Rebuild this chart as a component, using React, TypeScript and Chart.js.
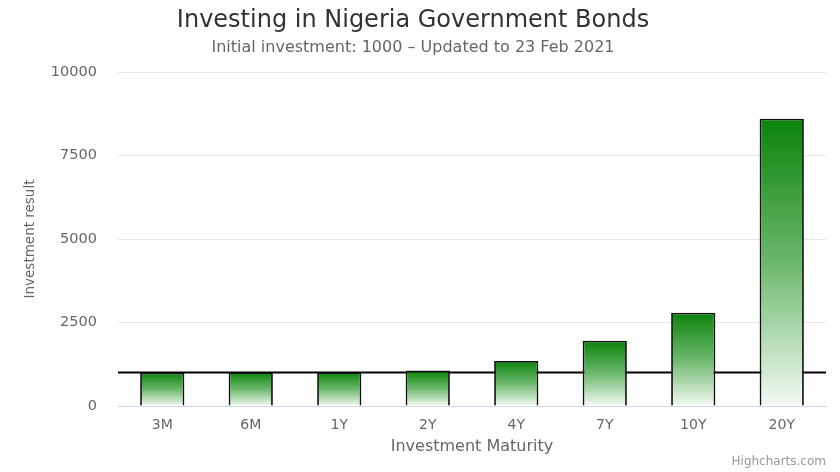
import { useEffect, useRef } from 'react'
import { Chart, registerables } from 'chart.js'

Chart.register(...registerables);

const maturities = ['3M', '6M', '1Y', '2Y', '4Y', '7Y', '10Y', '20Y'];
const results = [995, 1010, 1010, 1060, 1350, 1955, 2790, 8600];
const yTicks = [0, 2500, 5000, 7500, 10000];
const initialInvestment = 1000;

const FONT = '"DejaVu Sans", sans-serif';

// plot line at the initial investment, drawn behind the bars
const baselinePlugin = {
  id: 'baseline',
  beforeDatasetsDraw(chart: Chart) {
    const { ctx, chartArea, scales } = chart;
    const y = scales.y.getPixelForValue(initialInvestment);
    ctx.save();
    ctx.strokeStyle = '#000000';
    ctx.lineWidth = 2;
    ctx.beginPath();
    ctx.moveTo(chartArea.left, y);
    ctx.lineTo(chartArea.right, y);
    ctx.stroke();
    ctx.restore();
  },
  afterDraw(chart: Chart) {
    const { ctx, width, height } = chart;
    ctx.save();
    ctx.font = `12px ${FONT}`;
    ctx.fillStyle = '#999999';
    ctx.textAlign = 'right';
    ctx.textBaseline = 'middle';
    ctx.fillText('Highcharts.com', width - 14, height - 10);
    ctx.restore();
  },
};

export default function App() {
  const canvasRef = useRef<HTMLCanvasElement>(null);

  useEffect(() => {
    document.body.style.margin = '0';
    if (!canvasRef.current) return;
    const chart = new Chart(canvasRef.current, {
      type: 'bar',
      data: {
        labels: maturities,
        datasets: [{
          data: results,
          backgroundColor: (ctx: any) => {
            const c = ctx.chart;
            const ys = c.scales?.y;
            if (!c.chartArea || !ys || ctx.raw == null) return '#2e9a2e';
            const top = ys.getPixelForValue(ctx.raw);
            const bottom = ys.getPixelForValue(0);
            if (!isFinite(top) || !isFinite(bottom)) return '#2e9a2e';
            const g = c.ctx.createLinearGradient(0, top, 0, bottom);
            g.addColorStop(0, '#0a830a');
            g.addColorStop(0.5, '#6cb86c');
            g.addColorStop(1, '#f4faf4');
            return g;
          },
          borderColor: '#111111',
          borderWidth: 1.8,
          borderSkipped: 'bottom',
          barPercentage: 0.5,
          categoryPercentage: 1,
        }],
      },
      options: {
        animation: false,
        responsive: false,
        layout: { padding: { left: 0, right: 14, top: 0, bottom: 16 } },
        plugins: {
          legend: { display: false },
          tooltip: { enabled: false },
          title: {
            display: true,
            text: 'Investing in Nigeria Government Bonds',
            color: '#333333',
            font: { family: FONT, size: 24, weight: 'normal' },
            padding: { top: 6, bottom: 3 },
          },
          subtitle: {
            display: true,
            text: 'Initial investment: 1000 – Updated to 23 Feb 2021',
            color: '#666666',
            font: { family: FONT, size: 16, weight: 'normal' },
            padding: { top: 0, bottom: 15 },
          },
        },
        scales: {
          x: {
            grid: { display: false, tickLength: 0 },
            border: { color: '#ccd6eb', width: 1 },
            ticks: { color: '#666666', font: { family: FONT, size: 14 }, padding: 11 },
            title: {
              display: true,
              text: 'Investment Maturity',
              color: '#666666',
              font: { family: FONT, size: 16 },
              padding: { top: 4, bottom: 0 },
            },
            afterFit: (s: any) => { s.height = 50; },
          },
          y: {
            min: 0,
            max: 10000,
            afterBuildTicks: (s: any) => { s.ticks = yTicks.map(v => ({ value: v })); },
            grid: { color: '#e6e6e6', tickLength: 0 },
            border: { display: false },
            ticks: {
              color: '#666666',
              font: { family: FONT, size: 14.5 },
              padding: 21,
              callback: (v: any) => String(v),
            },
            title: {
              display: true,
              text: 'Investment result',
              color: '#666666',
              font: { family: FONT, size: 13.5 },
              padding: { top: 22, bottom: 0 },
            },
            afterFit: (s: any) => { s.width = 118; },
          },
        },
      },
      plugins: [baselinePlugin],
    });
    return () => chart.destroy();
  }, []);

  return <canvas ref={canvasRef} width={840} height={472} style={{ display: 'block' }} />;
}
